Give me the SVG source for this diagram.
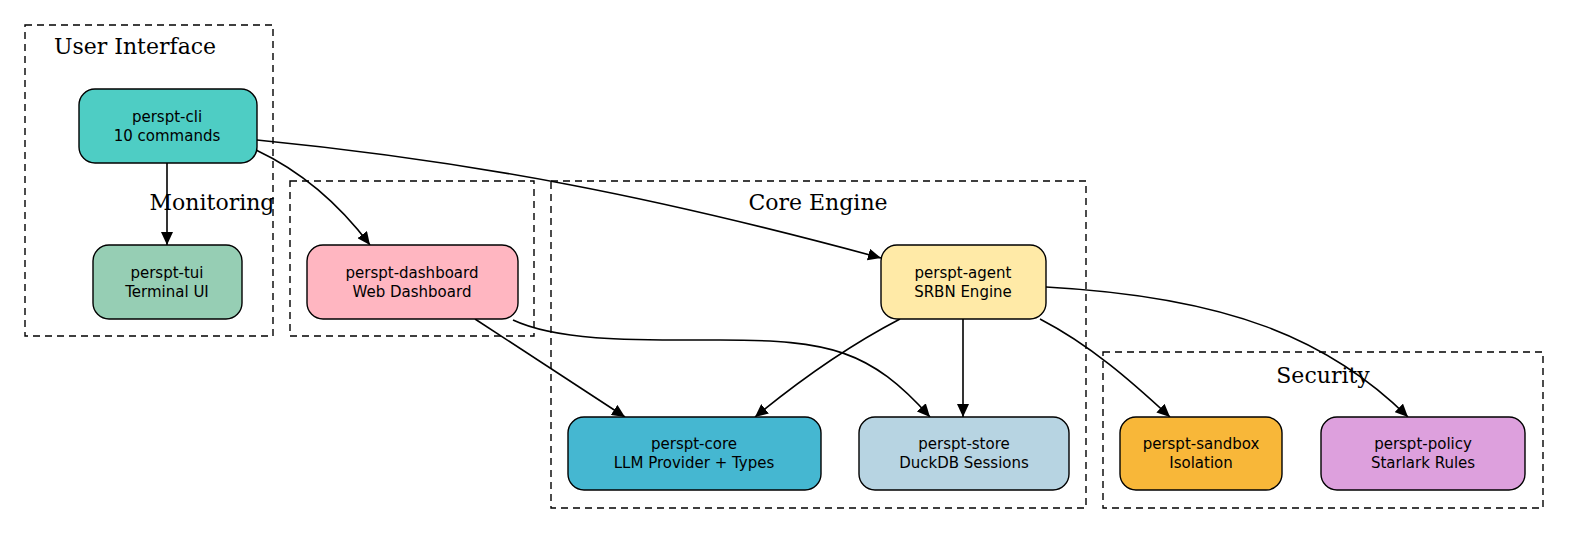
<svg xmlns="http://www.w3.org/2000/svg" width="1575" height="535" viewBox="0 0 1575 535">
<style>
.cl{fill:none;stroke:#000;stroke-width:1.4;stroke-dasharray:7,5}
.ct{font-family:"DejaVu Serif","Liberation Serif",serif;font-size:22px;text-anchor:middle}
.n{stroke:#000;stroke-width:1.4}
.t{font-family:"DejaVu Sans","Liberation Sans",sans-serif;font-size:15px;text-anchor:middle}
.e{fill:none;stroke:#000;stroke-width:1.6;marker-end:url(#a)}
</style>
<defs><marker id="a" markerUnits="userSpaceOnUse" markerWidth="14" markerHeight="12" refX="13" refY="6" orient="auto"><path d="M0,0 L13,6 L0,12 Z" fill="#000"/></marker></defs>
<rect x="0" y="0" width="1575" height="535" fill="#fff"/>
<g id="clusters">
<rect class="cl" x="25" y="25" width="248" height="311"/><text class="ct" x="135" y="54">User Interface</text>
<rect class="cl" x="290" y="181" width="244" height="155"/><text class="ct" x="212" y="210">Monitoring</text>
<rect class="cl" x="551" y="181" width="535" height="327"/><text class="ct" x="818" y="210">Core Engine</text>
<rect class="cl" x="1103" y="352" width="440" height="156"/><text class="ct" x="1323" y="383">Security</text>
</g>
<g id="connectors">
<path class="e" d="M167,163 L167,245"/>
<path class="e" d="M256,150 C290,166 330,192 370,245"/>
<path class="e" d="M257,140 C480,162 660,198 881,258"/>
<path class="e" d="M475,319 L625,417"/>
<path class="e" d="M513,320 C560,342 640,340 720,340 C830,340 870,350 930,417"/>
<path class="e" d="M900,319 C850,345 800,380 755,417"/>
<path class="e" d="M963,319 L963,417"/>
<path class="e" d="M1040,319 C1090,345 1130,380 1170,417"/>
<path class="e" d="M1046,287 C1230,297 1330,340 1408,417"/>
</g>
<g id="cli"><rect class="n" x="79" y="89" width="178" height="74" rx="16" fill="#4ecdc4"/><text class="t" x="167" y="122">perspt-cli</text><text class="t" x="167" y="141">10 commands</text></g>
<g id="tui"><rect class="n" x="93" y="245" width="149" height="74" rx="16" fill="#96ceb4"/><text class="t" x="167" y="278">perspt-tui</text><text class="t" x="167" y="297">Terminal UI</text></g>
<g id="dashboard"><rect class="n" x="307" y="245" width="211" height="74" rx="16" fill="#ffb6c1"/><text class="t" x="412" y="278">perspt-dashboard</text><text class="t" x="412" y="297">Web Dashboard</text></g>
<g id="agent"><rect class="n" x="881" y="245" width="165" height="74" rx="16" fill="#ffeaa7"/><text class="t" x="963" y="278">perspt-agent</text><text class="t" x="963" y="297">SRBN Engine</text></g>
<g id="core"><rect class="n" x="568" y="417" width="253" height="73" rx="16" fill="#45b7d1"/><text class="t" x="694" y="449">perspt-core</text><text class="t" x="694" y="468">LLM Provider + Types</text></g>
<g id="store"><rect class="n" x="859" y="417" width="210" height="73" rx="16" fill="#b7d4e2"/><text class="t" x="964" y="449">perspt-store</text><text class="t" x="964" y="468">DuckDB Sessions</text></g>
<g id="sandbox"><rect class="n" x="1120" y="417" width="162" height="73" rx="16" fill="#f8b739"/><text class="t" x="1201" y="449">perspt-sandbox</text><text class="t" x="1201" y="468">Isolation</text></g>
<g id="policy"><rect class="n" x="1321" y="417" width="204" height="73" rx="16" fill="#dda0dd"/><text class="t" x="1423" y="449">perspt-policy</text><text class="t" x="1423" y="468">Starlark Rules</text></g>
</svg>
